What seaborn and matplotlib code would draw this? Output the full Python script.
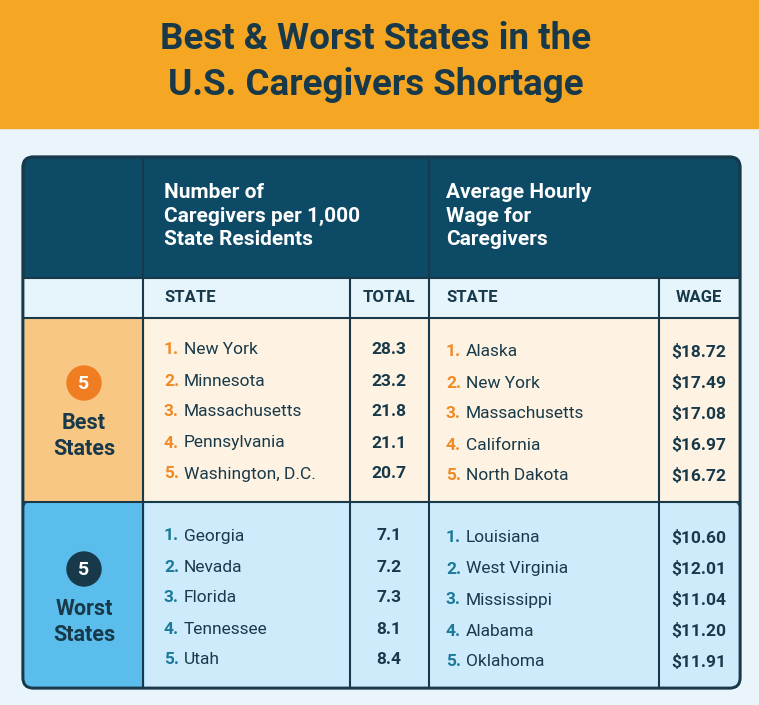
import matplotlib.pyplot as plt
import seaborn as sns
from matplotlib.patches import Rectangle, FancyBboxPatch

sns.set_theme(style="white")
plt.rcParams["font.family"] = "Roboto"

title = "Best & Worst States in the\nU.S. Caregivers Shortage"
header_left = "Number of\nCaregivers per 1,000\nState Residents"
header_right = "Average Hourly\nWage for\nCaregivers"
sub_labels = ["STATE", "TOTAL", "STATE", "WAGE"]

best_states_cg = ["New York", "Minnesota", "Massachusetts", "Pennsylvania", "Washington, D.C."]
best_totals = [28.3, 23.2, 21.8, 21.1, 20.7]
best_states_wage = ["Alaska", "New York", "Massachusetts", "California", "North Dakota"]
best_wages = [18.72, 17.49, 17.08, 16.97, 16.72]

worst_states_cg = ["Georgia", "Nevada", "Florida", "Tennessee", "Utah"]
worst_totals = [7.1, 7.2, 7.3, 8.1, 8.4]
worst_states_wage = ["Louisiana", "West Virginia", "Mississippi", "Alabama", "Oklahoma"]
worst_wages = [10.60, 12.01, 11.04, 11.20, 11.91]

NAVY = "#17394a"
TEAL = "#0d4a66"
ORANGE = "#f5a623"

fig = plt.figure(figsize=(7.59, 7.05), dpi=100)
ax = fig.add_axes([0, 0, 1, 1])
ax.set_xlim(0, 759)
ax.set_ylim(705, 0)
ax.axis("off")

ax.add_patch(Rectangle((0, 128), 759, 577, color="#e9f4fb"))
ax.add_patch(Rectangle((0, 0), 759, 128, color=ORANGE))
ax.text(376, 62, title, ha="center", va="center", fontsize=26.5, fontweight="bold",
        color=NAVY, linespacing=1.38)

cols = [23, 143, 350, 429, 659, 740]
# table frame
ax.add_patch(FancyBboxPatch((23, 157), 717, 531, boxstyle="round,pad=0,rounding_size=10",
                            fc=TEAL, ec=NAVY, lw=2, zorder=1))
ax.add_patch(Rectangle((23, 278), 717, 40, color="#e6f4fb", zorder=2))
ax.add_patch(Rectangle((143, 318), 597, 184, color="#fef3e2", zorder=2))
ax.add_patch(Rectangle((24, 318), 119, 184, color="#f9c784", zorder=2))
ax.add_patch(FancyBboxPatch((143, 502), 596, 185, boxstyle="round,pad=0,rounding_size=9",
                            color="#cdebfa", zorder=2))
ax.add_patch(Rectangle((143, 502), 590, 185, color="#cdebfa", zorder=2))
ax.add_patch(FancyBboxPatch((24, 502), 119, 185, boxstyle="round,pad=0,rounding_size=9",
                            color="#5bbdeb", zorder=2))
ax.add_patch(Rectangle((30, 502), 113, 185, color="#5bbdeb", zorder=2))
ax.add_patch(FancyBboxPatch((23, 157), 717, 531, boxstyle="round,pad=0,rounding_size=10",
                            fc="none", ec=NAVY, lw=2, zorder=5))
for y in [278, 318, 502]:
    ax.plot([23, 740], [y, y], color=NAVY, lw=1.5, zorder=4)
for x in cols[1:-1]:
    y0 = 157 if x in (143, 429) else 278
    ax.plot([x, x], [y0, 688], color=NAVY, lw=1.5, zorder=4)

ax.text(164, 216, header_left, ha="left", va="center", fontsize=15, fontweight="bold",
        color="white", linespacing=1.3, zorder=6)
ax.text(446, 216, header_right, ha="left", va="center", fontsize=15, fontweight="bold",
        color="white", linespacing=1.3, zorder=6)
for x, lab, ha in zip([164, 389, 446, 699], sub_labels, ["left", "center", "left", "center"]):
    ax.text(x, 298, lab, ha=ha, va="center", fontsize=12, fontweight="bold", color=NAVY, zorder=6)

def block(y0, num_color, states_l, vals_l, states_r, vals_r, badge_color, label):
    for i in range(5):
        yl = y0 + i * 31
        yr = yl + 2
        ax.text(164, yl, f"{i+1}.", fontsize=12.5, color=num_color, fontweight="bold", va="center", zorder=6)
        ax.text(184, yl, states_l[i], fontsize=12.5, color=NAVY, va="center", zorder=6)
        ax.text(389, yl, f"{vals_l[i]:.1f}", fontsize=12.5, color=NAVY, fontweight="bold",
                ha="center", va="center", zorder=6)
        ax.text(446, yr, f"{i+1}.", fontsize=12.5, color=num_color, fontweight="bold", va="center", zorder=6)
        ax.text(466, yr, states_r[i], fontsize=12.5, color=NAVY, va="center", zorder=6)
        ax.text(699, yr, f"${vals_r[i]:.2f}", fontsize=12.5, color=NAVY, fontweight="bold",
                ha="center", va="center", zorder=6)
    ax.add_patch(plt.Circle((84, y0 + 33), 17, color=badge_color, zorder=6))
    ax.text(84, y0 + 34, "5", ha="center", va="center", fontsize=14, fontweight="bold",
            color="white", zorder=7)
    ax.text(84, y0 + 86, label, ha="center", va="center", fontsize=15.5, fontweight="bold",
            color=NAVY, linespacing=1.2, zorder=6)

block(350, "#f08a24", best_states_cg, best_totals, best_states_wage, best_wages, "#f07d22", "Best\nStates")
block(536, "#1b7a9a", worst_states_cg, worst_totals, worst_states_wage, worst_wages, NAVY, "Worst\nStates")

fig.savefig("out.png", dpi=100)
